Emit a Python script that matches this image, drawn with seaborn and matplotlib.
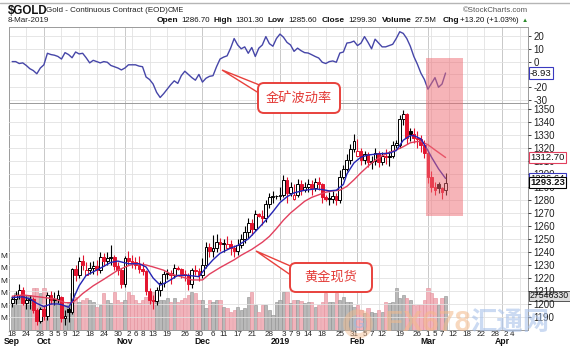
import numpy as np
import pandas as pd
import matplotlib
matplotlib.use("Agg")
import matplotlib.pyplot as plt
import matplotlib.transforms as mtransforms
from matplotlib.patches import Rectangle, FancyBboxPatch, Polygon, Circle
import seaborn as sns

sns.set_theme(style="white")
plt.rcParams['font.family'] = ['Liberation Sans', 'DejaVu Sans', 'Noto Sans CJK SC']

# ---------------- data ----------------
dates = pd.bdate_range("2018-09-18", "2019-03-08")          # trading days shown
future = pd.bdate_range("2019-03-11", "2019-04-12")

opens = [1201,1204,1207,1211,1201,1203,1204,1195,1187,
         1196,1191,1207,1203,1204, 1205,1189,1196,1194,1227, 1222,1233,1222,1226,1228, 1229,1226,1236,1233,1235, 1236,1229,1226,
         1215,1235, 1233,1232,1230,1227,1225, 1210,1203,1202,1211,1216, 1223,1224,1222,1228,1227, 1223,1222,1215,1226,1225,
         1222,1230,1244,1241,1243, 1248,1246,1243,1246,1243, 1241,1245,1250,1255,1262, 1258,1269,1268,1266,1277, 1282,
         1283,1283,1284,1295, 1285,1281,1284,1292,1288, 1290,1292,1289,1294,1292, 1282,1281,1281,1283,1280, 1298,1304,1311,1319,
         1314, 1318,1311,1315,1309,1310, 1316,1309,1314,1313,1314, 1322,1322,1342,1346,1333, 1331,1328,1327,1322,
         1316, 1298,1290,1292,1289,1287.5]
highs = [1206,1210,1215,1213,1206,1207,1205,1197,1198,
         1199,1209,1210,1209,1211, 1206,1195,1198,1228,1230, 1236,1238,1232,1232,1233, 1234,1240,1239,1240,1245, 1238,1232,1228,
         1237,1241, 1238,1236,1237,1232,1226, 1212,1207,1213,1218,1225, 1227,1226,1231,1229,1228, 1226,1224,1228,1230,1228,
         1235,1248,1247,1253,1254, 1251,1250,1252,1249,1245, 1250,1254,1260,1266,1265, 1272,1270,1272,1280,1285, 1287,
         1284,1290,1299,1298, 1294,1292,1296,1295,1294, 1296,1295,1297,1298,1293, 1284,1286,1287,1285,1303, 1307,1315,1323,1331,
         1327, 1320,1318,1317,1314,1320, 1318,1317,1319,1318,1325, 1326,1345,1349,1347,1335, 1335,1333,1330,1326,
         1318, 1302,1294,1294,1290,1301]
lows = [1198,1200,1204,1199,1196,1196,1193,1184,1185,
        1188,1188,1200,1199,1201, 1186,1184,1186,1192,1218, 1220,1226,1222,1223,1223, 1222,1224,1229,1230,1230, 1226,1222,1212,
        1213,1230, 1228,1227,1224,1222,1207, 1200,1196,1199,1206,1213, 1219,1215,1220,1226,1220, 1218,1211,1212,1222,1218,
        1220,1228,1236,1236,1240, 1241,1240,1243,1238,1236, 1238,1243,1247,1251,1253, 1256,1267,1261,1263,1274, 1278,
        1281,1280,1282,1278, 1283,1280,1282,1284,1286, 1286,1284,1287,1288,1278, 1279,1276,1278,1276,1278, 1296,1302,1308,1317,
        1314, 1307,1308,1305,1304,1307, 1305,1307,1308,1306,1312, 1320,1320,1338,1323,1325, 1324,1320,1317,1312,
        1293, 1286,1284,1285,1281,1284]
closes = [1204,1207,1211,1201,1203,1204,1195,1187,1196,
          1191,1207,1203,1204,1207, 1189,1191,1194,1227,1222, 1233,1230,1226,1228,1229, 1226,1236,1233,1235,1236, 1229,1226,1215,
          1235,1233, 1232,1230,1227,1225,1210, 1203,1202,1211,1216,1223, 1224,1222,1228,1227,1223, 1222,1215,1226,1225,1222,
          1230,1244,1241,1243,1248, 1246,1247,1246,1243,1241, 1245,1250,1255,1262,1258, 1269,1268,1266,1277,1282, 1283,
          1283,1284,1295,1285, 1290,1284,1292,1288,1290, 1292,1289,1294,1292,1282, 1281,1281,1283,1280,1298, 1304,1311,1319,1325,
          1318, 1311,1315,1309,1310,1316, 1309,1314,1313,1314,1322, 1324,1342,1346,1328,1331, 1328,1327,1322,1316,
          1298, 1290,1288,1289,1286,1293.2]
volume_m = [26.9,29.6,28.2,29.6,28.2,28.2,33.6,33.6,29.6,34,
            26.9,24.2,24.2,25.5,23.5,20.2,21.5,29.6,26.9,22.8,
            24.2,25.5,24.2,22.8,18.8,20.2,29.6,24.2,21.5,31,
            24.2,22.8,24.2,31,28.2,24.2,21.5,24.2,26.9,28.2,
            31,28.2,24.2,24.2,25.5,22.8,25.5,22.8,24.2,25.5,
            28.2,31,29.6,24.2,24.2,17.5,24.2,22.8,24.2,24.2,
            18.8,17.5,14.8,16.1,18.8,16.1,17.5,26.9,31,20.2,
            14.8,20.2,20.2,16.1,12.1,22.8,24.2,31,30.9,21.5,
            24.2,24.2,23,21.5,22.8,22.8,18.8,20.2,22.8,29.6,
            22.8,22.8,29.6,24.2,26.9,22.8,22.8,18.8,20.2,16,
            13.4,17.5,14.8,13.4,16.1,14.8,22.8,21.5,22.8,33.6,
            25.5,28.2,25.5,24.2,20.2,20.2,20.2,24.2,33.6,29.6,
            25.5,20.2,25.5,27.5]
volatility = [0,0,-1.5,-1,-3,-5.5,-7,-9.5,-5,-2.5,
              6.5,5.5,5,4,2,7,5.5,3,7.5,6,
              6.5,3,-1,1,0,-1,0,-0.5,-3,-4,
              -5,-6.5,-5,-2.5,-2.5,-2.5,-3.5,-4,-12,-14,
              -17.5,-24,-28,-25,-21.5,-18,-15,-17,-11,-7.5,
              -10,-12.5,-14.5,-10,-16,-13,-11.5,-11,-4,2,
              3.5,4.5,10.5,18,13,10,11.5,6.5,11,4,
              10.5,13,19.5,14,12,18,21.5,19,15,13,
              8,10.5,8.5,7,6.7,5.4,4,2.8,-0.5,-1.5,
              0,0.5,-0.5,6.7,7.5,14.5,14.9,16,12.5,14.4,
              19.5,15,10,17.5,14.5,11.5,11.5,12.5,13.5,18,
              23.3,22,18,12,4,-2,-9,-14,-21.5,-17,
              -12.5,-20,-17.5,-8.93]

blue_ma_dates = ["2018-09-18","2018-09-21","2018-09-25","2018-09-27","2018-10-01","2018-10-03","2018-10-05",
                 "2018-10-08","2018-10-10","2018-10-11","2018-10-15","2018-10-17","2018-10-23","2018-10-26",
                 "2018-10-30","2018-11-02","2018-11-07","2018-11-09","2018-11-13","2018-11-15","2018-11-19",
                 "2018-11-22","2018-11-27","2018-11-30","2018-12-04","2018-12-06","2018-12-10","2018-12-13",
                 "2018-12-17","2018-12-20","2018-12-25","2018-12-27","2018-12-31","2019-01-02","2019-01-04",
                 "2019-01-08","2019-01-11","2019-01-16","2019-01-18","2019-01-22","2019-01-24","2019-01-28",
                 "2019-01-29","2019-01-31","2019-02-04","2019-02-06","2019-02-11","2019-02-14","2019-02-18",
                 "2019-02-19","2019-02-20","2019-02-22","2019-02-25","2019-02-27","2019-03-01","2019-03-04",
                 "2019-03-06","2019-03-08"]
blue_ma = [1205,1205.5,1204,1200.5,1198,1200,1200,1199.5,1197.5,1202,1214,1222,1227.5,1232,1233,1231,1231,
           1228.5,1220,1214.5,1217,1222,1222,1221,1228,1234,1239,1243,1245,1250,1258.5,1264.5,1271,1278,
           1282.5,1285.5,1287.5,1288.5,1288,1287,1287.5,1292,1300,1308.5,1313,1314.6,1315.5,1316,1318,
           1322,1326,1329.5,1329.5,1327,1318,1313,1304,1296.6]
red_ma_dates = ["2018-09-18","2018-09-21","2018-09-26","2018-10-01","2018-10-04","2018-10-09","2018-10-11",
                "2018-10-12","2018-10-16","2018-10-19","2018-10-24","2018-10-26","2018-10-30","2018-11-02",
                "2018-11-06","2018-11-09","2018-11-13","2018-11-16","2018-11-20","2018-11-23","2018-11-28",
                "2018-12-03","2018-12-05","2018-12-10","2018-12-14","2018-12-18","2018-12-21","2018-12-26",
                "2018-12-28","2019-01-01","2019-01-03","2019-01-07","2019-01-09","2019-01-11","2019-01-15",
                "2019-01-17","2019-01-21","2019-01-23","2019-01-25","2019-01-29","2019-01-31","2019-02-04",
                "2019-02-06","2019-02-08","2019-02-12","2019-02-14","2019-02-18","2019-02-20","2019-02-22",
                "2019-02-26","2019-02-27","2019-03-01","2019-03-05","2019-03-08"]
red_ma = [1206,1207,1206,1205,1204,1201,1201,1203,1208,1214,1219,1222.5,1226,1229.5,1231,1230,1228.5,1226,
          1223,1221,1218.5,1218.5,1223,1228,1234,1237.5,1242,1247.5,1252,1258,1264.5,1270,1274.5,1279,
          1282,1284,1286,1287,1287.5,1290.5,1295.5,1301,1306,1310.5,1314,1316.5,1318.5,1321,1324,1325,
          1325,1322.5,1318.5,1312.7]

day_ticks = ["2018-09-18","2018-09-24","2018-09-28","2018-10-03","2018-10-05","2018-10-09","2018-10-12",
             "2018-10-18","2018-10-24","2018-10-30","2018-11-02","2018-11-06","2018-11-08","2018-11-13",
             "2018-11-19","2018-11-26","2018-11-30","2018-12-06","2018-12-11","2018-12-17","2018-12-21",
             "2018-12-28","2019-01-03","2019-01-07","2019-01-09","2019-01-14","2019-01-18","2019-01-25",
             "2019-01-31","2019-02-05","2019-02-07","2019-02-12","2019-02-19","2019-02-26","2019-03-01",
             "2019-03-05","2019-03-07","2019-03-12","2019-03-18","2019-03-22","2019-03-28","2019-04-02",
             "2019-04-04"]
month_labels = ["Sep", "Oct", "Nov", "Dec", "2019", "Feb", "Mar", "Apr"]
month_dates = ["2018-09-18","2018-10-01","2018-11-01","2018-12-03","2019-01-02","2019-02-01","2019-03-01","2019-04-01"]
price_ticks = list(range(1190, 1351, 10))
vol_ticks = [10, 20, 30, 40, 50, 60]
osc_ticks = [20, 10, 0, -10, -20, -30]

# ---------------- helpers ----------------
all_days = dates.append(future)
pos = {d: i for i, d in enumerate(all_days)}
def idx(s):
    return pos[pd.Timestamp(s)]

W, H = 570, 360
fig = plt.figure(figsize=(W / 100, H / 100), dpi=100)
fig.patch.set_facecolor("white")
ID = mtransforms.IdentityTransform()
def P(x, y):
    return (x, H - y)

L, R = 9, 528
def rect(top, bottom):
    return [L / W, 1 - bottom / H, (R - L) / W, (bottom - top) / H]

ax_top = fig.add_axes(rect(27, 103))
ax_vol = fig.add_axes(rect(103, 330))
ax = fig.add_axes(rect(103, 330), sharex=ax_vol)
ax.patch.set_visible(False)

XMIN, XMAX = -0.9, 146.4
GRID = "#e2e2e2"
MONTHGRID = "#c9c9c9"
FRAME = "#9a9a9a"
RED = "#e3142f"
x = np.arange(len(dates))

week_lines = [i for i, d in enumerate(all_days) if d.weekday() == 0]
month_lines = [idx(d) for d in month_dates[1:]]

for a in (ax_top, ax_vol):
    a.set_xlim(XMIN, XMAX)
    for w in week_lines:
        a.axvline(w, color=GRID, lw=0.6, zorder=0)
    for m in month_lines:
        a.axvline(m, color=MONTHGRID, lw=0.7, zorder=0)
    for s in a.spines.values():
        s.set_color(FRAME)
        s.set_linewidth(0.7)
ax.set_xlim(XMIN, XMAX)
for s in ax.spines.values():
    s.set_visible(False)

# ---------------- top panel: volatility ----------------
ax_top.set_ylim(-32.3, 27.0)
for t in osc_ticks:
    ax_top.axhline(t, color=GRID, lw=0.6, zorder=0)
sns.lineplot(x=x, y=volatility, ax=ax_top, color="#4646a8", lw=1.0)
ax_top.yaxis.tick_right()
ax_top.set_yticks(osc_ticks)
ax_top.set_yticklabels([str(t) for t in osc_ticks])
ax_top.tick_params(axis="y", labelsize=7, length=2, pad=2, colors="#222222", width=0.6)
ax_top.set_xticks([])
ax_top.set_xlabel("")
ax_top.set_ylabel("")

# ---------------- main panel ----------------
ax.set_ylim(1180.0, 1354.6)
for t in price_ticks:
    ax.axhline(t, color=GRID, lw=0.6, zorder=0)

up_prev = [True] + [closes[i] >= closes[i - 1] for i in range(1, len(closes))]
vol_colors = ["#b9b9b9" if u else "#f1b3bb" for u in up_prev]
vol_edges = ["#8f8f8f" if u else "#e58f9b" for u in up_prev]
ax_vol.bar(x, volume_m, width=0.92, color=vol_colors, edgecolor=vol_edges, linewidth=0.4, zorder=2)
ax_vol.set_ylim(0, 227 / 1.24)
ax_vol.yaxis.tick_left()
ax_vol.set_yticks(vol_ticks)
ax_vol.set_yticklabels(["M"] * len(vol_ticks))
ax_vol.tick_params(axis="y", labelsize=6, length=0, pad=1, colors="#222222")
ax_vol.tick_params(axis="x", length=0, labelbottom=False, labeltop=False)
ax_vol.set_xlabel("")
ax_vol.set_ylabel("")

# candles
for i in range(len(dates)):
    o, h, l, c = opens[i], highs[i], lows[i], closes[i]
    col = "black" if up_prev[i] else RED
    ax.vlines(i, l, h, color=col, lw=0.8, zorder=3)
    bottom = min(o, c)
    height = max(abs(c - o), 0.35)
    face = "white" if c >= o else col
    ax.bar(i, height, bottom=bottom, width=0.8, color=face, edgecolor=col, linewidth=0.7, zorder=4)

sns.lineplot(x=[idx(d) for d in red_ma_dates], y=red_ma, ax=ax, color="#e2405e", lw=1.0, zorder=5)
sns.lineplot(x=[idx(d) for d in blue_ma_dates], y=blue_ma, ax=ax, color="#2424b4", lw=1.0, zorder=6)

ax.yaxis.tick_right()
ax.set_yticks(price_ticks)
ax.set_yticklabels([str(t) for t in price_ticks])
ax.tick_params(axis="y", labelsize=7, length=2, pad=2, colors="#222222", width=0.6)
ax.set_xticks([idx(d) for d in day_ticks])
ax.set_xticklabels([str(pd.Timestamp(d).day) for d in day_ticks])
ax.tick_params(axis="x", labelsize=5.8, length=0, pad=0.8, colors="#222222")
ax.set_xlabel("")
ax.set_ylabel("")
for lab, d in zip(month_labels, month_dates):
    ax.text(idx(d), -11.5 / 227, lab, transform=ax.get_xaxis_transform(), ha="center", va="center",
            fontsize=6.2, fontweight="bold", color="#111111")

# value tags on the right axis
def tag(a, yv, txt, ec, bold=False):
    a.text(1.004, yv, txt, transform=a.get_yaxis_transform(), ha="left", va="center",
           fontsize=6.8, fontweight="bold" if bold else "normal", color="#111111", zorder=20,
           bbox=dict(boxstyle="square,pad=0.12", fc="white", ec=ec, lw=0.8), clip_on=False)

tag(ax_top, volatility[-1], f"{volatility[-1]:.2f}", "#3a3ac0")
tag(ax, red_ma[-1], f"{red_ma[-1]:.2f}", "#e2405e")
tag(ax, blue_ma[-1], "1296.64", "#3a3ac0")
tag(ax, closes[-1] + 0.03, "1293.23", "black", bold=True)
ax_vol.text(1.004, volume_m[-1] * 1.0, "27546330", transform=ax_vol.get_yaxis_transform(), ha="left",
            va="center", fontsize=6.3, color="#111111", zorder=20,
            bbox=dict(boxstyle="square,pad=0.1", fc="#dcdcdc", ec="#555555", lw=0.7), clip_on=False)

# ---------------- header ----------------
fig.add_artist(plt.Line2D([0, W], [H - 2.5, H - 2.5], transform=ID, color="#b5b5b5", lw=1))
fig.text(*P(8, 10.5), "$GOLD", transform=ID, fontsize=8.3, fontweight="bold", va="center", ha="left", color="#111111")
fig.text(*P(46, 10.5), "Gold - Continuous Contract (EOD)", transform=ID, fontsize=5.8, va="center", ha="left", color="#222222")
fig.text(*P(168, 10.5), "CME", transform=ID, fontsize=5.2, va="center", ha="left", color="#222222")
fig.text(*P(8, 21), "8-Mar-2019", transform=ID, fontsize=5.8, va="center", ha="left", color="#222222")
fig.text(*P(528, 11), "\u00a9StockCharts.com", transform=ID, fontsize=5.6, va="center", ha="right", color="#555555")
hdr = [("Open", True, 157), ("1286.70", False, 181), ("High", True, 213), ("1301.30", False, 235),
       ("Low", True, 267), ("1285.60", False, 288), ("Close", True, 322), ("1299.30", False, 348),
       ("Volume", True, 382), ("27.5M", False, 415), ("Chg", True, 443), ("+13.20 (+1.03%)", False, 460)]
for txt, b, xx in hdr:
    fig.text(*P(xx, 21), txt, transform=ID, fontsize=6 if b else 5.7, fontweight="bold" if b else "normal",
             va="center", ha="left", color="#111111")
fig.text(*P(525, 21), "\u25b2", transform=ID, fontsize=4.5, va="center", ha="center", color="#2a8a2a")

# ---------------- highlight + callouts ----------------
fig.add_artist(Rectangle(P(426, 216), 37, 158, transform=ID, facecolor="#ee6a72", alpha=0.5,
                         edgecolor="none", zorder=30))

def callout(tip, base1, base2, box, text):
    fig.add_artist(Polygon([P(*tip), P(*base1), P(*base2)], closed=True, transform=ID,
                           facecolor="white", edgecolor="#e8413c", lw=1.0, zorder=40))
    x0, y0, x1, y1 = box
    fig.add_artist(FancyBboxPatch(P(x0, y1), x1 - x0, y1 - y0, boxstyle="round,pad=0,rounding_size=6",
                                  transform=ID, facecolor="white", edgecolor="#e8413c", lw=1.4, zorder=41))
    fig.text(*P((x0 + x1) / 2, (y0 + y1) / 2), text, transform=ID, fontsize=9.5, color="#e33a36",
             ha="center", va="center", zorder=42, family=["Noto Sans CJK SC"])

callout((222, 70), (262, 86), (262, 95), (258, 83, 340, 113), "金矿波动率")
callout((256, 251), (295, 268), (295, 278), (290, 263, 372, 292), "黄金现货")

# ---------------- watermark ----------------
fig.add_artist(Circle(P(358, 324), 12, transform=ID, facecolor="none", edgecolor="#f3b98a", lw=4, alpha=0.45, zorder=35))
fig.text(*P(358, 324), "G", transform=ID, fontsize=11, color="#9fb8e0", alpha=0.6, ha="center", va="center", zorder=35, fontweight="bold")
fig.text(*P(428, 323), "FX678", transform=ID, fontsize=21, fontweight="bold", color="#f3b98a", alpha=0.55,
         ha="center", va="center", zorder=35)
fig.text(*P(510, 323), "汇通网", transform=ID, fontsize=19, fontweight="bold", color="#a9c2ea", alpha=0.6,
         ha="center", va="center", zorder=35, family=["Noto Sans CJK SC"])

fig.savefig("out.png", dpi=100, facecolor="white")
